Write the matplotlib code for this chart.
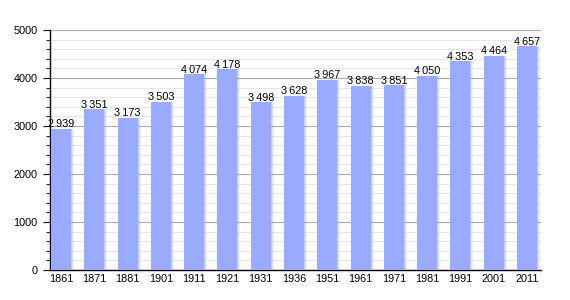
import matplotlib
matplotlib.use("Agg")
import matplotlib.pyplot as plt
from matplotlib.ticker import MultipleLocator
import numpy as np

plt.rcParams['font.family'] = ['Liberation Sans', 'DejaVu Sans']

years = ["1861", "1871", "1881", "1901", "1911", "1921", "1931", "1936",
         "1951", "1961", "1971", "1981", "1991", "2001", "2011"]
population = [2939, 3351, 3173, 3503, 4074, 4178, 3498, 3628,
              3967, 3838, 3851, 4050, 4353, 4464, 4657]
value_labels = ["2\u2009939", "3\u2009351", "3\u2009173", "3\u2009503", "4\u2009074",
                "4\u2009178", "3\u2009498", "3\u2009628", "3\u2009967", "3\u2009838",
                "3\u2009851", "4\u2009050", "4\u2009353", "4\u2009464", "4\u2009657"]

fig = plt.figure(figsize=(5.7, 3.0), dpi=100)
ax = fig.add_axes([50/570, 30/300, 491/570, 240/300])

x = np.arange(len(years))
color = "#99aaff"
w = 0.6
ax.bar(x, population, width=w, color=color, zorder=3, linewidth=0)
# soft right edge
for i, a in enumerate([0.6, 0.35, 0.15]):
    ax.bar(x + w/2 + 0.03*i, population, width=0.03, align="edge",
           color=color, alpha=a, zorder=3, linewidth=0)

for xi, v, lab in zip(x, population, value_labels):
    ax.text(xi, v - 10, lab, ha="center", va="bottom", fontsize=7.8, zorder=4)

ax.set_ylim(0, 5000)
ax.set_xlim(-0.33, 14.42)
ax.yaxis.set_major_locator(MultipleLocator(1000))
ax.yaxis.set_minor_locator(MultipleLocator(200))
ax.grid(axis="y", which="major", color="#aaaaaa", linewidth=0.8, zorder=0)
ax.grid(axis="y", which="minor", color="#e6e6e6", linewidth=0.8, zorder=0)
ax.set_xticks(x)
ax.set_xticklabels(years)
ax.tick_params(axis="x", length=0, labelsize=7.8, pad=3)
ax.tick_params(axis="y", which="major", length=5, labelsize=7.8, pad=4)
ax.tick_params(axis="y", which="minor", length=3)
for s in ["top", "right"]:
    ax.spines[s].set_visible(False)
ax.spines["left"].set_linewidth(1.0)
ax.spines["bottom"].set_linewidth(1.0)

fig.savefig("out.png", dpi=100)
